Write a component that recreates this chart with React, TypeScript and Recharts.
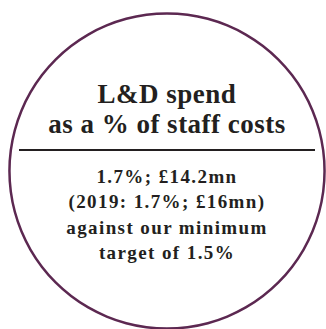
import { PieChart, Pie, Cell, Customized } from "recharts";

// headline figure shown in the badge
const metric = [{ name: "L&D spend as a % of staff costs", value: 1.7 }];
const titleLines = ["L&D spend", "as a % of staff costs"];
const detailLines = [
  "1.7%; £14.2mn",
  "(2019: 1.7%; £16mn)",
  "against our minimum",
  "target of 1.5%",
];

const W = 326;
const H = 329;
const CX = 167;
const CY = 171;
const PURPLE = "#5c2851";
const INK = "#231f20";
const FONT = "Liberation Serif";

function BadgeText() {
  return (
    <g>
      {titleLines.map((t, i) => (
        <text
          key={t}
          x={CX}
          y={103 + i * 30}
          textAnchor="middle"
          fontFamily={FONT}
          fontWeight="bold"
          fontSize={27}
          letterSpacing={0.5}
          fill={INK}
        >
          {t}
        </text>
      ))}
      <line x1={19} x2={315} y1={150} y2={150} stroke={INK} strokeWidth={2} />
      {detailLines.map((t, i) => (
        <text
          key={t}
          x={CX}
          y={183 + i * 25.3}
          textAnchor="middle"
          fontFamily={FONT}
          fontWeight="bold"
          fontSize={19}
          letterSpacing={1.4}
          fill={INK}
        >
          {t}
        </text>
      ))}
    </g>
  );
}

export default function App() {
  return (
    <div style={{ position: "absolute", left: 0, top: 0, width: W, height: H, background: "#fff" }}>
      <PieChart width={W} height={H} margin={{ top: 0, right: 0, bottom: 0, left: 0 }}>
        <Pie
          data={metric}
          dataKey="value"
          cx={CX}
          cy={CY}
          innerRadius={156.3}
          outerRadius={158.8}
          startAngle={90}
          endAngle={-270}
          stroke="none"
          isAnimationActive={false}
        >
          <Cell fill={PURPLE} />
        </Pie>
        <Customized component={BadgeText} />
      </PieChart>
    </div>
  );
}
